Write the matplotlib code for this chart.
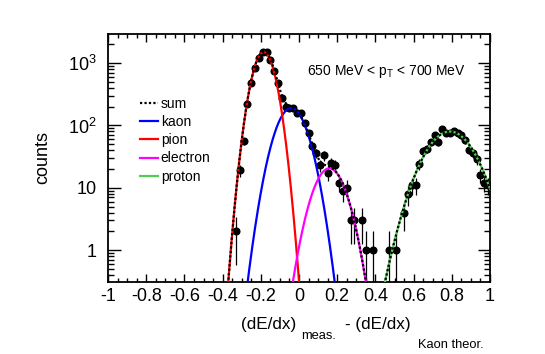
import numpy as np
import matplotlib
matplotlib.use('Agg')
import matplotlib.pyplot as plt
from matplotlib.ticker import MultipleLocator, FixedLocator, FixedFormatter, LogLocator, NullFormatter

plt.rcParams['font.family'] = ['Liberation Sans', 'DejaVu Sans']
plt.rcParams['mathtext.fontset'] = 'custom'
plt.rcParams['mathtext.rm'] = 'Liberation Sans'
plt.rcParams['mathtext.it'] = 'Liberation Sans:italic'
plt.rcParams['mathtext.bf'] = 'Liberation Sans:bold'

# ---- data ----
bin_centers = [-0.33, -0.31, -0.29, -0.27, -0.25, -0.23, -0.21, -0.19, -0.17, -0.15,
               -0.13, -0.11, -0.09, -0.07, -0.05, -0.03, -0.01, 0.01, 0.03, 0.05,
               0.07, 0.09, 0.11, 0.13, 0.15, 0.17, 0.19, 0.21, 0.23, 0.25,
               0.27, 0.29, 0.33, 0.35, 0.39, 0.47, 0.51, 0.55, 0.57, 0.59,
               0.61, 0.63, 0.65, 0.67, 0.69, 0.71, 0.73, 0.75, 0.77, 0.79,
               0.81, 0.83, 0.85, 0.87, 0.89, 0.91, 0.93, 0.95, 0.97, 0.99]
counts = [2, 19, 56, 220, 484, 844, 1194, 1490, 1480, 1122,
          747, 474, 272, 200, 192, 194, 158, 156, 111, 77,
          47, 36, 23, 33, 17, 25, 23, 12, 9, 10,
          3, 3, 3, 1, 1, 1, 1, 4, 8, 11,
          11, 24, 39, 42, 54, 70, 55, 87, 77, 77,
          82, 77, 70, 58, 41, 36, 29, 16, 12, 11]

# Gaussian fit components (amplitude, mean, sigma)
fit_names = ['kaon', 'pion', 'electron', 'proton']
fit_amplitude = [190.0, 1500.0, 20.5, 80.0]
fit_mean = [-0.041, -0.185, 0.159, 0.79]
fit_sigma = [0.0636, 0.045, 0.066, 0.102]
fit_colors = ['#0000ff', '#ff0000', '#ff00ff', '#55cc55']

x_ticks = [-1, -0.8, -0.6, -0.4, -0.2, 0, 0.2, 0.4, 0.6, 0.8, 1]
x_ticklabels = ['-1', '-0.8', '-0.6', '-0.4', '-0.2', '0', '0.2', '0.4', '0.6', '0.8', '1']
y_ticks = [1, 10, 100, 1000]
y_ticklabels = ['1', '10', r'$10^{2}$', r'$10^{3}$']
annotation = r'650 MeV < p$_{\mathrm{T}}$ < 700 MeV'
y_title = 'counts'
x_title_parts = ['(dE/dx)', 'meas.', '- (dE/dx)', 'Kaon theor.']

W, H = 545, 354
fig = plt.figure(figsize=(W / 100, H / 100), dpi=100)
ax = fig.add_axes([108 / W, 1 - 282 / H, (490 - 108) / W, (282 - 34) / H])
ax.set_yscale('log', nonpositive='clip')

xc = np.array(bin_centers)
yc = np.array(counts, dtype=float)
ax.errorbar(xc, yc, yerr=np.sqrt(yc), fmt='o', color='black', ms=4.8,
            elinewidth=0.9, capsize=0, zorder=3)

xs = np.linspace(-1, 1, 2001)
total = np.zeros_like(xs)
handles = {}
for name, a, m, s, c in zip(fit_names, fit_amplitude, fit_mean, fit_sigma, fit_colors):
    g = a * np.exp(-0.5 * ((xs - m) / s) ** 2)
    total += g
    g_plot = np.where(g > 1e-3, g, np.nan)
    ln, = ax.plot(xs, g_plot, color=c, lw=1.6, zorder=4)
    handles[name] = ln
t_plot = np.where(total > 1e-3, total, np.nan)
ln_sum, = ax.plot(xs, t_plot, color='black', lw=1.6, ls=(0, (1, 1)), zorder=5)
handles['sum'] = ln_sum

ax.set_xlim(-1, 1)
ax.set_ylim(0.309, 2926)

ax.xaxis.set_major_locator(FixedLocator(x_ticks))
ax.xaxis.set_major_formatter(FixedFormatter(x_ticklabels))
ax.xaxis.set_minor_locator(MultipleLocator(0.05))
ax.yaxis.set_major_locator(FixedLocator(y_ticks))
ax.yaxis.set_major_formatter(FixedFormatter(y_ticklabels))
ax.yaxis.set_minor_locator(LogLocator(base=10, subs=np.arange(2, 10), numticks=20))
ax.yaxis.set_minor_formatter(NullFormatter())

ax.tick_params(axis='both', which='both', direction='in', top=True, right=True, width=1)
ax.tick_params(axis='x', which='major', length=6, pad=4, labelsize=13)
ax.tick_params(axis='x', which='minor', length=3)
ax.tick_params(axis='y', which='major', length=9, pad=8, labelsize=13)
ax.tick_params(axis='y', which='minor', length=4.5)
for sp in ax.spines.values():
    sp.set_linewidth(1.3)

order = ['sum', 'kaon', 'pion', 'electron', 'proton']
leg = ax.legend([handles[k] for k in order], order, loc='upper left',
                bbox_to_anchor=(140 / W, 1 - 97 / H), bbox_transform=fig.transFigure,
                frameon=False, fontsize=10, handlelength=1.3, handletextpad=0.2,
                labelspacing=0.3, borderpad=0, borderaxespad=0)

fig.text(306.7 / W, 1 - 75 / H, annotation, fontsize=10, ha='left', va='baseline')

fig.text(43 / W, 1 - 157 / H, y_title, rotation=90, fontsize=13, ha='center', va='center')

# x title assembled ROOT-style (main text + lowered subscripts)
part_x = [241, 301, 345, 418]
part_base = [329, 339, 329, 348]
part_size = [12.3, 9.3, 12.3, 9.3]
for txt, px, pb, fs in zip(x_title_parts, part_x, part_base, part_size):
    fig.text(px / W, 1 - pb / H, txt, fontsize=fs, ha='left', va='baseline')

fig.savefig('out.png', dpi=100)
